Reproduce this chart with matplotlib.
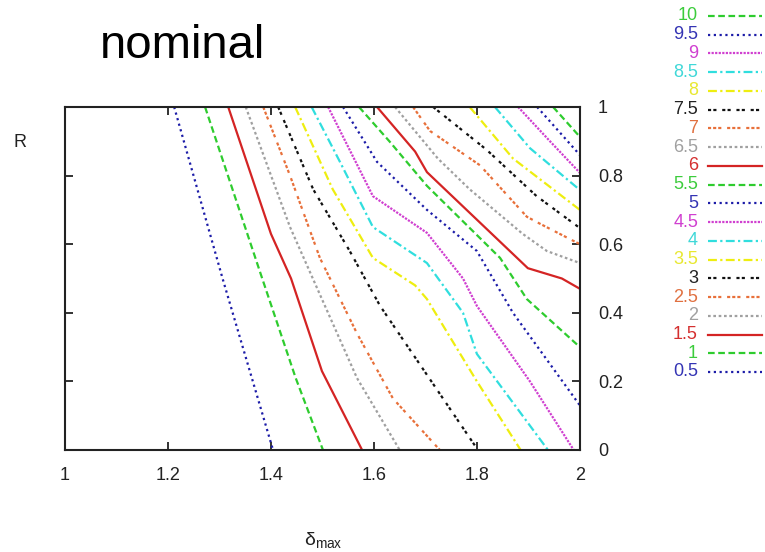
import matplotlib
matplotlib.use("Agg")
import matplotlib.pyplot as plt
from matplotlib.lines import Line2D

plt.rcParams['font.family'] = ['Liberation Sans', 'DejaVu Sans']

# contour levels and traced (delta_max, R) points for each level
levels = [0.5, 1, 1.5, 2, 2.5, 3, 3.5, 4, 4.5, 5, 5.5, 6, 6.5, 7, 7.5, 8, 8.5, 9, 9.5, 10]

x_0_5 = [1.212, 1.306, 1.404]
r_0_5 = [1.0, 0.5, 0.0]
x_1_0 = [1.272, 1.383, 1.448, 1.501]
r_1_0 = [1.0, 0.5, 0.21, 0.0]
x_1_5 = [1.317, 1.400, 1.439, 1.499, 1.577]
r_1_5 = [1.0, 0.63, 0.50, 0.23, 0.0]
x_2_0 = [1.351, 1.437, 1.499, 1.567, 1.650]
r_2_0 = [1.0, 0.65, 0.44, 0.21, 0.0]
x_2_5 = [1.385, 1.437, 1.495, 1.567, 1.637, 1.728]
r_2_5 = [1.0, 0.80, 0.56, 0.34, 0.15, 0.0]
x_3_0 = [1.414, 1.482, 1.553, 1.612, 1.689, 1.802]
r_3_0 = [1.0, 0.76, 0.58, 0.42, 0.25, 0.0]
x_3_5 = [1.447, 1.520, 1.598, 1.680, 1.703, 1.800, 1.885]
r_3_5 = [1.0, 0.76, 0.56, 0.48, 0.44, 0.20, 0.0]
x_4_0 = [1.479, 1.534, 1.598, 1.703, 1.773, 1.800, 1.938]
r_4_0 = [1.0, 0.84, 0.65, 0.545, 0.40, 0.28, 0.0]
x_4_5 = [1.511, 1.598, 1.703, 1.773, 1.800, 1.903, 1.988]
r_4_5 = [1.0, 0.74, 0.633, 0.50, 0.42, 0.20, 0.0]
x_5_0 = [1.540, 1.606, 1.703, 1.800, 1.870, 2.0]
r_5_0 = [1.0, 0.84, 0.70, 0.58, 0.40, 0.13]
x_5_5 = [1.571, 1.630, 1.703, 1.845, 1.897, 2.0]
r_5_5 = [1.0, 0.90, 0.77, 0.56, 0.44, 0.30]
x_6_0 = [1.606, 1.680, 1.703, 1.899, 1.965, 2.0]
r_6_0 = [1.0, 0.87, 0.81, 0.53, 0.50, 0.47]
x_6_5 = [1.641, 1.724, 1.786, 1.889, 1.936, 2.0]
r_6_5 = [1.0, 0.85, 0.76, 0.63, 0.58, 0.545]
x_7_0 = [1.676, 1.709, 1.806, 1.897, 1.922, 2.0]
r_7_0 = [1.0, 0.93, 0.83, 0.68, 0.66, 0.60]
x_7_5 = [1.715, 1.819, 1.916, 2.0]
r_7_5 = [1.0, 0.875, 0.74, 0.647]
x_8_0 = [1.786, 1.870, 2.0]
r_8_0 = [1.0, 0.85, 0.70]
x_8_5 = [1.835, 1.903, 2.0]
r_8_5 = [1.0, 0.88, 0.758]
x_9_0 = [1.880, 1.942, 2.0]
r_9_0 = [1.0, 0.90, 0.808]
x_9_5 = [1.917, 2.0]
r_9_5 = [1.0, 0.86]
x_10_0 = [1.948, 2.0]
r_10_0 = [1.0, 0.913]

xs = [x_0_5, x_1_0, x_1_5, x_2_0, x_2_5, x_3_0, x_3_5, x_4_0, x_4_5, x_5_0,
      x_5_5, x_6_0, x_6_5, x_7_0, x_7_5, x_8_0, x_8_5, x_9_0, x_9_5, x_10_0]
rs = [r_0_5, r_1_0, r_1_5, r_2_0, r_2_5, r_3_0, r_3_5, r_4_0, r_4_5, r_5_0,
      r_5_5, r_6_0, r_6_5, r_7_0, r_7_5, r_8_0, r_8_5, r_9_0, r_9_5, r_10_0]

x_ticks = [1, 1.2, 1.4, 1.6, 1.8, 2]
x_ticklabels = ["1", "1.2", "1.4", "1.6", "1.8", "2"]
y_ticks = [0, 0.2, 0.4, 0.6, 0.8, 1]
y_ticklabels = ["0", "0.2", "0.4", "0.6", "0.8", "1"]

# gnuplot-like style cycle (9 styles)
line_colors = ["#1c1ca8", "#2ecc2e", "#d42424", "#a0a0a0", "#e8703a",
               "#111111", "#eeee10", "#30dede", "#d040d0"]
text_colors = ["#3434b4", "#3ccc3c", "#d43030", "#a0a0a0", "#e07040",
               "#222222", "#e8e830", "#40d8d8", "#d040d0"]
dashes = [(0, (1, 1.6)), (0, (3, 1.6)), "-", (0, (1.2, 1.2)),
          (0, (1.4, 0.9, 1.4, 0.9, 1.4, 2.6)), (0, (1.4, 1.0, 1.4, 2.6)),
          (0, (4, 1.5, 1, 1.5)), (0, (4, 1.5, 1, 1.5)), (0, (1, 0.6))]

fig = plt.figure(figsize=(7.65, 5.52), dpi=100)
ax = fig.add_axes([0.085, 0.1848, 0.673, 0.6214])

for i, lev in enumerate(levels):
    k = i % 9
    ax.plot(xs[i], rs[i], color=line_colors[k], linestyle=dashes[k], lw=1.6)

ax.set_xlim(1, 2)
ax.set_ylim(0, 1)
ax.set_xticks(x_ticks)
ax.set_xticklabels(x_ticklabels)
ax.set_yticks(y_ticks)
ax.set_yticklabels(y_ticklabels)
ax.tick_params(axis='both', direction='in', length=6, width=1.3, colors="#222222",
               labelsize=13, top=True, right=True, left=True, bottom=True)
ax.tick_params(axis='y', labelleft=False, labelright=True, pad=13)
ax.tick_params(axis='x', pad=12)
for sp in ax.spines.values():
    sp.set_linewidth(1.5)
    sp.set_color("#222222")

# labels and title
fig.text(100 / 765, 1 - 58 / 552, "nominal", fontsize=34, ha='left', va='baseline')
fig.text(20 / 765, 1 - 143 / 552, "R", fontsize=13, ha='center', va='center', color="#222222")
fig.text(323 / 765, 1 - 540 / 552, r"$\mathregular{\delta_{max}}$", fontsize=14,
         ha='center', va='center', color="#222222")

# legend on the right, highest level first
top_px, bot_px = 16, 372
step = (bot_px - top_px) / (len(levels) - 1)
for j, lev in enumerate(levels[::-1]):
    i = len(levels) - 1 - j
    k = i % 9
    yf = 1 - (top_px + j * step) / 552
    fig.text(698 / 765, yf, f"{lev:g}", fontsize=13, color=text_colors[k],
             ha='right', va='center')
    fig.add_artist(Line2D([708 / 765, 762 / 765], [yf, yf], transform=fig.transFigure,
                          color=line_colors[k], linestyle=dashes[k], lw=1.6))

fig.savefig("out.png", dpi=100)
